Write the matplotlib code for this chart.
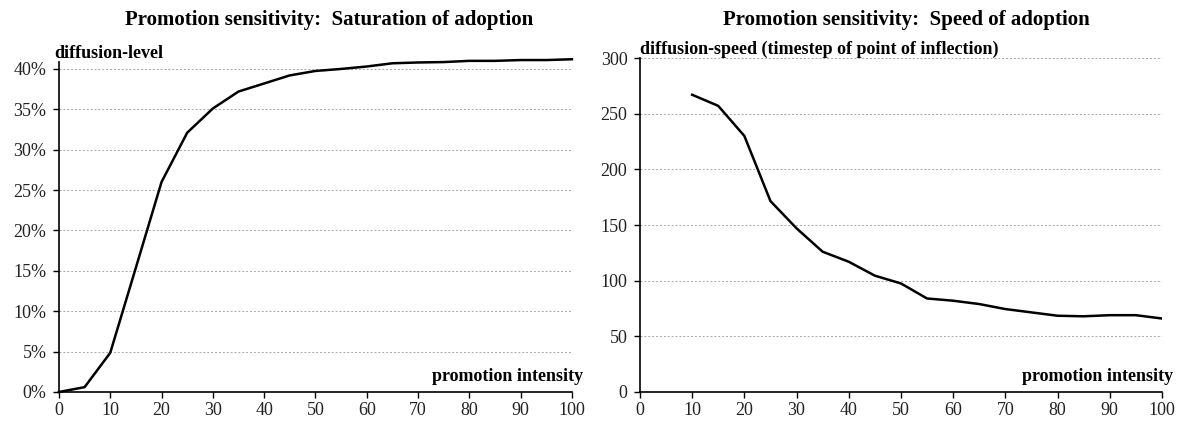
import matplotlib
matplotlib.use('Agg')
import matplotlib.pyplot as plt
from matplotlib.ticker import PercentFormatter

plt.rcParams['font.family'] = ['Liberation Serif', 'DejaVu Serif']

# saturation of adoption
intensity_sat = [0, 5, 10, 15, 20, 25, 30, 35, 40, 45, 50, 55, 60, 65, 70, 75, 80, 85, 90, 95, 100]
diffusion_level = [0.0, 0.6, 4.85, 15.4, 26.0, 32.1, 35.1, 37.2, 38.2, 39.2, 39.75, 40.0,
                   40.3, 40.7, 40.8, 40.85, 41.0, 41.0, 41.1, 41.1, 41.2]

# speed of adoption
intensity_speed = [10, 15, 20, 25, 30, 35, 40, 45, 50, 55, 60, 65, 70, 75, 80, 85, 90, 95, 100]
diffusion_speed = [267, 257, 230, 171.5, 147, 126, 117, 104.5, 97.5, 84, 82, 79, 74.5, 71.5,
                   68.5, 68, 69, 69, 66]

fig = plt.figure(figsize=(11.86, 4.21), dpi=100)
ax1 = fig.add_axes([0.0497, 0.0689, 0.4325, 0.7827])
ax2 = fig.add_axes([0.5396, 0.0689, 0.4401, 0.7933])


def style(ax):
    ax.spines['top'].set_visible(False)
    ax.spines['right'].set_visible(False)
    ax.spines['left'].set_linewidth(1.2)
    ax.spines['bottom'].set_linewidth(1.2)
    ax.tick_params(axis='both', labelsize=13, length=4, width=1, direction='out',
                   labelcolor='#222222')
    ax.tick_params(axis='x', pad=3)
    ax.tick_params(axis='y', pad=5)
    ax.grid(axis='y', linestyle=(0, (2, 2)), color='#a8a8a8', linewidth=0.7)
    ax.set_axisbelow(True)
    ax.set_xlim(0, 100)
    ax.set_xticks(range(0, 101, 10))


ax1.plot(intensity_sat, diffusion_level, color='black', linewidth=1.8, clip_on=False)
style(ax1)
ax1.set_ylim(0, 40.8)
ax1.set_yticks(range(0, 41, 5))
ax1.yaxis.set_major_formatter(PercentFormatter(decimals=0))
ax1.text(-0.01, 1.0, 'diffusion-level', transform=ax1.transAxes, fontsize=13,
         fontweight='bold', ha='left', va='bottom')
ax1.text(1.022, 0.022, 'promotion intensity', transform=ax1.transAxes, fontsize=13,
         fontweight='bold', ha='right', va='bottom')

ax2.plot(intensity_speed, diffusion_speed, color='black', linewidth=1.8)
style(ax2)
ax2.set_ylim(0, 300)
ax2.set_yticks(range(0, 301, 50))
ax2.text(0.0, 1.0, 'diffusion-speed (timestep of point of inflection)', transform=ax2.transAxes,
         fontsize=13, fontweight='bold', ha='left', va='bottom')
ax2.text(1.022, 0.022, 'promotion intensity', transform=ax2.transAxes, fontsize=13,
         fontweight='bold', ha='right', va='bottom')

fig.text(329 / 1186, 1 - 20 / 421, 'Promotion sensitivity:  Saturation of adoption',
         fontsize=15, fontweight='bold', ha='center', va='center')
fig.text(906 / 1186, 1 - 20 / 421, 'Promotion sensitivity:  Speed of adoption',
         fontsize=15, fontweight='bold', ha='center', va='center')

fig.savefig('out.png', dpi=100)
